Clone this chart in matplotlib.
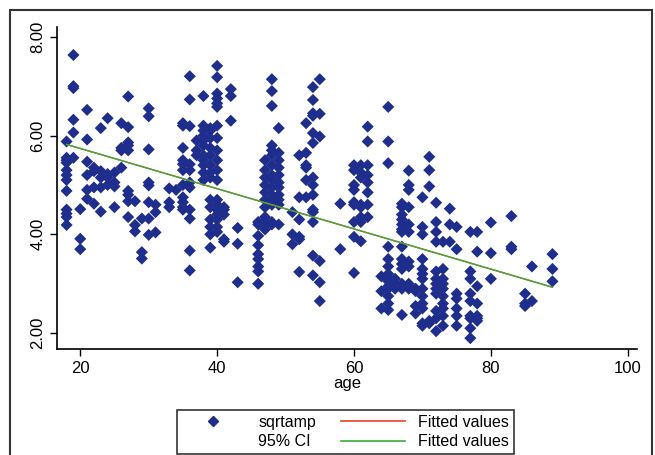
import matplotlib
matplotlib.use("Agg")
import matplotlib.pyplot as plt
from matplotlib.patches import Rectangle, Patch
from matplotlib.lines import Line2D

plt.rcParams['font.family'] = ['Liberation Sans Narrow', 'Liberation Sans', 'DejaVu Sans']

# scatter data, one line per age column
age = (
    [18, 18, 18, 18, 18, 18, 18, 18, 18, 18, 18, 18]
    + [19, 19, 19, 19, 19, 19]
    + [20, 20, 20]
    + [21, 21, 21, 21, 21, 21]
    + [22, 22, 22, 22]
    + [23, 23, 23, 23, 23]
    + [24, 24, 24, 24]
    + [25, 25, 25, 25]
    + [26, 26, 26, 26]
    + [27, 27, 27, 27, 27, 27, 27, 27, 27]
    + [28, 28, 28]
    + [29, 29, 29]
    + [30, 30, 30, 30, 30, 30, 30, 30]
    + [31, 31, 31]
    + [33, 33, 33]
    + [34]
    + [35, 35, 35, 35, 35, 35, 35, 35, 35, 35, 35]
    + [36, 36, 36, 36, 36, 36, 36, 36, 36, 36, 36]
    + [37, 37, 37]
    + [38, 38, 38, 38, 38, 38, 38, 38, 38, 38, 38]
    + [39, 39, 39, 39, 39, 39, 39, 39, 39, 39, 39, 39, 39, 39]
    + [40, 40, 40, 40, 40, 40, 40, 40, 40, 40, 40, 40, 40, 40, 40, 40, 40, 40, 40]
    + [41, 41, 41, 41, 41]
    + [42, 42, 42]
    + [43, 43, 43]
    + [46, 46, 46, 46, 46, 46, 46, 46, 46]
    + [47, 47, 47, 47, 47, 47, 47, 47, 47, 47, 47]
    + [48, 48, 48, 48, 48, 48, 48, 48, 48, 48, 48, 48, 48, 48, 48]
    + [49, 49, 49, 49, 49, 49, 49, 49, 49, 49, 49]
    + [51, 51, 51]
    + [52, 52, 52, 52, 52, 52]
    + [53, 53, 53, 53, 53, 53]
    + [54, 54, 54, 54, 54, 54, 54, 54, 54, 54, 54, 54, 54, 54]
    + [55, 55, 55, 55, 55, 55]
    + [58, 58]
    + [60, 60, 60, 60, 60, 60, 60, 60, 60]
    + [61, 61, 61, 61, 61, 61, 61, 61]
    + [62, 62, 62, 62, 62, 62, 62, 62]
    + [64, 64, 64]
    + [65, 65, 65, 65, 65, 65, 65, 65, 65, 65, 65, 65, 65, 65]
    + [66, 66, 66, 66]
    + [67, 67, 67, 67, 67, 67, 67, 67, 67, 67, 67, 67, 67, 67]
    + [68, 68, 68, 68, 68, 68, 68, 68, 68, 68]
    + [69, 69, 69, 69]
    + [70, 70, 70, 70, 70, 70, 70, 70, 70, 70, 70, 70, 70]
    + [71, 71, 71, 71, 71]
    + [72, 72, 72, 72, 72, 72, 72, 72, 72, 72, 72, 72]
    + [73, 73, 73, 73, 73, 73, 73, 73, 73, 73]
    + [74, 74, 74]
    + [75, 75, 75, 75, 75, 75, 75]
    + [77, 77, 77, 77, 77, 77, 77, 77, 77]
    + [78, 78, 78, 78, 78, 78, 78]
    + [80, 80, 80]
    + [83, 83, 83]
    + [85, 85, 85]
    + [86, 86]
    + [89, 89, 89]
)
sqrtamp = (
    [5.88, 5.55, 5.5, 5.45, 5.3, 5.2, 5.1, 4.88, 4.5, 4.42, 4.35, 4.19]
    + [7.63, 7.0, 6.96, 6.32, 6.06, 5.55]
    + [4.51, 3.91, 3.7]
    + [6.52, 5.92, 5.47, 5.2, 4.9, 4.72]
    + [5.35, 5.28, 4.95, 4.62]
    + [6.15, 5.28, 5.15, 4.95, 4.46]
    + [6.35, 5.22, 5.15, 5.0]
    + [5.25, 5.05, 4.97, 4.55]
    + [6.25, 5.75, 5.7, 5.35]
    + [6.79, 6.17, 5.86, 5.8, 5.7, 4.88, 4.8, 4.67, 4.35]
    + [4.67, 4.19, 4.06]
    + [4.32, 3.64, 3.51]
    + [6.55, 6.39, 5.72, 5.05, 4.99, 4.65, 4.32, 3.99]
    + [4.6, 4.45, 4.04]
    + [4.93, 4.65, 4.55]
    + [4.9]
    + [6.25, 6.2, 5.75, 5.5, 5.42, 5.3, 5.0, 4.75, 4.65, 4.55, 4.5]
    + [7.2, 6.73, 6.19, 5.42, 5.3, 5.05, 4.95, 4.5, 4.32, 3.67, 3.27]
    + [5.9, 5.7, 5.6]
    + [6.8, 6.2, 6.1, 6.0, 5.9, 5.8, 5.6, 5.5, 5.4, 5.25, 5.1]
    + [6.15, 6.1, 5.95, 5.75, 5.6, 5.4, 5.25, 5.15, 4.7, 4.55, 4.3, 4.15, 4.0, 3.73]
    + [7.41, 7.18, 6.85, 6.75, 6.65, 6.58, 6.2, 5.95, 5.7, 5.5, 5.3, 5.1, 4.7, 4.6, 4.5, 4.4, 4.3, 4.15, 4.05]
    + [4.55, 4.5, 4.4, 3.9, 3.85]
    + [6.94, 6.8, 6.3]
    + [4.13, 3.81, 3.03]
    + [4.25, 4.2, 3.97, 3.78, 3.6, 3.5, 3.35, 3.25, 3.0]
    + [5.5, 5.3, 5.15, 5.0, 4.85, 4.7, 4.55, 4.35, 4.25, 4.2, 4.1]
    + [7.14, 6.9, 6.6, 5.8, 5.7, 5.6, 5.4, 5.2, 5.1, 4.95, 4.8, 4.7, 4.6, 4.25, 4.2]
    + [6.15, 5.65, 5.5, 5.35, 5.2, 5.05, 4.95, 4.8, 4.7, 4.6, 4.2]
    + [4.45, 4.0, 3.8]
    + [5.6, 4.75, 4.3, 3.95, 3.9, 3.24]
    + [6.25, 5.65, 5.4, 5.35, 5.1, 4.75]
    + [6.98, 6.72, 6.45, 6.4, 6.05, 5.85, 5.15, 5.0, 4.8, 4.5, 4.45, 4.25, 3.57, 3.17]
    + [7.14, 6.44, 5.98, 3.46, 3.03, 2.65]
    + [4.62, 3.7]
    + [5.4, 5.3, 5.0, 4.9, 4.65, 4.6, 4.25, 3.95, 3.22]
    + [5.4, 5.25, 5.15, 4.6, 4.55, 4.35, 4.25, 3.86]
    + [6.18, 5.88, 5.4, 5.2, 5.05, 4.85, 4.6, 4.35]
    + [3.15, 2.85, 2.5]
    + [6.58, 5.88, 5.44, 3.75, 3.5, 3.35, 3.2, 3.1, 3.05, 2.95, 2.9, 2.75, 2.6, 2.47]
    + [3.1, 3.0, 2.95, 2.9]
    + [4.62, 4.55, 4.4, 4.3, 4.2, 4.1, 4.05, 3.75, 3.5, 3.4, 3.3, 3.0, 2.9, 2.37]
    + [5.29, 5.0, 4.9, 4.55, 4.2, 4.05, 3.45, 3.35, 3.0, 2.9]
    + [2.9, 2.85, 2.55, 2.4]
    + [4.75, 4.15, 4.0, 3.5, 3.3, 3.2, 3.1, 2.9, 2.75, 2.6, 2.5, 2.2, 2.15]
    + [5.57, 5.3, 4.97, 2.25, 2.2]
    + [4.64, 4.25, 4.05, 3.85, 3.25, 3.1, 3.0, 2.9, 2.8, 2.45, 2.3, 2.04]
    + [3.85, 3.3, 3.1, 3.0, 2.9, 2.75, 2.6, 2.5, 2.35, 2.15]
    + [4.52, 4.2, 3.85]
    + [4.15, 3.7, 2.8, 2.7, 2.5, 2.35, 2.15]
    + [4.05, 3.25, 3.1, 2.8, 2.65, 2.35, 2.3, 2.1, 1.9]
    + [4.05, 3.65, 2.95, 2.6, 2.35, 2.3, 2.25]
    + [4.24, 3.62, 3.1]
    + [4.37, 3.75, 3.7]
    + [2.8, 2.6, 2.55]
    + [3.35, 2.65]
    + [3.6, 3.3, 3.05]
)

# fitted line (ends)
fit_age = [18, 89]
fit_val = [5.82, 2.93]

xticks = [20, 40, 60, 80, 100]
yticks = [2, 4, 6, 8]

fig = plt.figure(figsize=(6.55, 4.55), dpi=100)
ax = fig.add_axes([0.087, 0.233, 0.886, 0.708])

ax.scatter(age, sqrtamp, marker='D', s=38, color='#1f2e8c', edgecolors='none', zorder=2)
ax.plot(fit_age, fit_val, color='#e8412c', lw=1.0, zorder=3)
ax.plot(fit_age, fit_val, color='#3aad3a', lw=1.0, zorder=4)

ax.set_xlim(16.6, 101.4)
ax.set_ylim(1.68, 8.2)
ax.set_xticks(xticks)
ax.set_yticks(yticks)
ax.set_yticklabels([f'{v:.2f}' for v in yticks], rotation=90, va='center')
ax.tick_params(direction='out', length=5, width=1, labelsize=12, colors='black')
ax.set_xlabel('age', fontsize=12, labelpad=0)

ax.spines['top'].set_visible(False)
ax.spines['right'].set_visible(False)
ax.spines['left'].set_linewidth(1.2)
ax.spines['bottom'].set_linewidth(1.2)

# outer frame round the graph region
fig.patches.append(Rectangle((10 / 655, -0.05), 642 / 655, 1 - 10 / 455 + 0.05,
                             transform=fig.transFigure, fill=False,
                             edgecolor='#333333', lw=1.5))

handles = [
    Line2D([], [], marker='D', ls='none', color='#1f2e8c', markersize=5),
    Patch(facecolor='none', edgecolor='none'),
    Line2D([], [], color='#e8412c', lw=1.2),
    Line2D([], [], color='#3aad3a', lw=1.2),
]
labels = ['sqrtamp', '95% CI', 'Fitted values', 'Fitted values']
leg = fig.legend(handles, labels, ncol=2, loc='upper center',
                 bbox_to_anchor=(0.527, 0.117), fontsize=11.5, frameon=True,
                 fancybox=False, edgecolor='black', handlelength=4,
                 handletextpad=0.8, columnspacing=1.6, borderpad=0.3,
                 labelspacing=0.3)
leg.get_frame().set_linewidth(1.2)

fig.savefig('out.png', dpi=100)
